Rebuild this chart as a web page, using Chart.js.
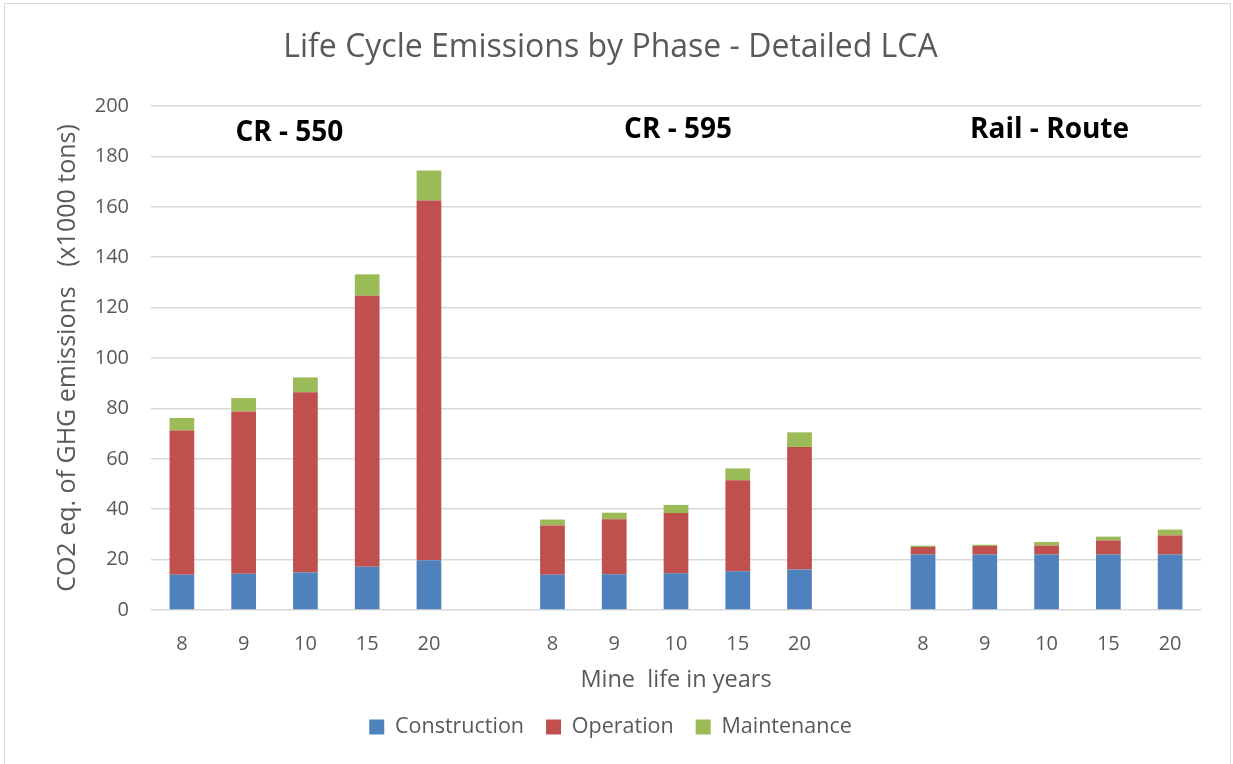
<!DOCTYPE html>
<html lang="en">
<head>
    <meta charset="UTF-8">
    <title>Life Cycle Emissions by Phase</title>
    <script src="https://cdn.jsdelivr.net/npm/chart.js"></script>
    <style>
        body { margin: 0; background: #fff; }
        #wrap { position: relative; width: 1233px; height: 764px; }
        #frame { position: absolute; left: 4px; top: 3px; width: 1225px; height: 780px; border: 1px solid #d9d9d9; pointer-events: none; }
    </style>
</head>
<body>
    <div id="wrap">
        <canvas id="lcaChart" width="1233" height="764"></canvas>
        <div id="frame"></div>
    </div>

    <script>
        // mine life categories, blank slot between the three route groups
        const years = ['8', '9', '10', '15', '20', '', '8', '9', '10', '15', '20', '', '8', '9', '10', '15', '20'];
        const groupNames = ['CR - 550', 'CR - 595', 'Rail - Route'];

        // x1000 tons CO2 eq.
        const construction = [14.0, 14.4, 14.9, 17.2, 19.7, null, 14.0, 14.2, 14.6, 15.4, 16.1, null, 22.0, 22.0, 22.0, 22.0, 22.0];
        const operation    = [57.2, 64.4, 71.5, 107.5, 142.8, null, 19.5, 21.8, 23.9, 36.1, 48.6, null, 3.0, 3.4, 3.6, 5.6, 7.6];
        const maintenance  = [5.0, 5.3, 5.9, 8.5, 11.9, null, 2.4, 2.6, 3.2, 4.7, 5.8, null, 0.5, 0.5, 1.4, 1.5, 2.3];

        const grey = '#595959';
        const fontFamily = '"Open Sans", "Noto Sans", sans-serif';

        // route names written above each group of bars
        const groupLabels = {
            id: 'groupLabels',
            afterDatasetsDraw(chart) {
                const ctx = chart.ctx;
                const x = chart.scales.x, y = chart.scales.y;
                const spots = [[2, -16, 189.3], [8, 2, 190.3], [14, 3, 190.3]];
                ctx.save();
                ctx.font = 'bold 28px ' + fontFamily;
                ctx.fillStyle = '#000';
                ctx.textAlign = 'center';
                ctx.textBaseline = 'middle';
                groupNames.forEach((name, i) => {
                    const s = spots[i];
                    ctx.fillText(name, x.getPixelForValue(s[0]) + s[1], y.getPixelForValue(s[2]));
                });
                ctx.restore();
            }
        };

        const ctx = document.getElementById('lcaChart').getContext('2d');
        new Chart(ctx, {
            type: 'bar',
            data: {
                labels: years,
                datasets: [
                    { label: 'Construction', data: construction, backgroundColor: '#4f81bd' },
                    { label: 'Operation', data: operation, backgroundColor: '#c0504d' },
                    { label: 'Maintenance', data: maintenance, backgroundColor: '#9bbb59' }
                ]
            },
            options: {
                responsive: false,
                animation: false,
                layout: { padding: { top: 0, left: 20, right: 32, bottom: 16.25 } },
                datasets: { bar: { categoryPercentage: 1, barPercentage: 0.4 } },
                plugins: {
                    title: {
                        display: true,
                        text: 'Life Cycle Emissions by Phase - Detailed LCA',
                        color: grey,
                        font: { family: fontFamily, size: 32, weight: 'normal' },
                        padding: { top: 28.8, bottom: 38.8 }
                    },
                    legend: {
                        position: 'bottom',
                        labels: {
                            color: grey,
                            font: { family: fontFamily, size: 21.5 },
                            boxWidth: 15,
                            boxHeight: 15,
                            padding: 22
                        }
                    },
                    tooltip: { enabled: false }
                },
                scales: {
                    x: {
                        stacked: true,
                        grid: { display: false },
                        border: { display: false },
                        ticks: { color: grey, font: { family: fontFamily, size: 20 }, padding: 14, autoSkip: false, maxRotation: 0 },
                        title: {
                            display: true,
                            text: 'Mine  life in years',
                            color: grey,
                            font: { family: fontFamily, size: 23.5 },
                            padding: { top: 0, bottom: 0 }
                        },
                        afterFit(scale) { scale.height = 84.25; }
                    },
                    y: {
                        stacked: true,
                        min: 0,
                        max: 200,
                        grid: { color: '#d9d9d9', lineWidth: 1.5, drawTicks: false },
                        border: { display: false },
                        ticks: { stepSize: 20, color: grey, font: { family: fontFamily, size: 20 }, padding: 22 },
                        title: {
                            display: true,
                            text: 'CO2 eq. of GHG emissions   (x1000 tons)',
                            color: grey,
                            font: { family: fontFamily, size: 25 },
                            padding: { top: 33, bottom: 0 }
                        },
                        afterFit(scale) { scale.width = 131; }
                    }
                }
            },
            plugins: [groupLabels]
        });
    </script>
</body>
</html>
